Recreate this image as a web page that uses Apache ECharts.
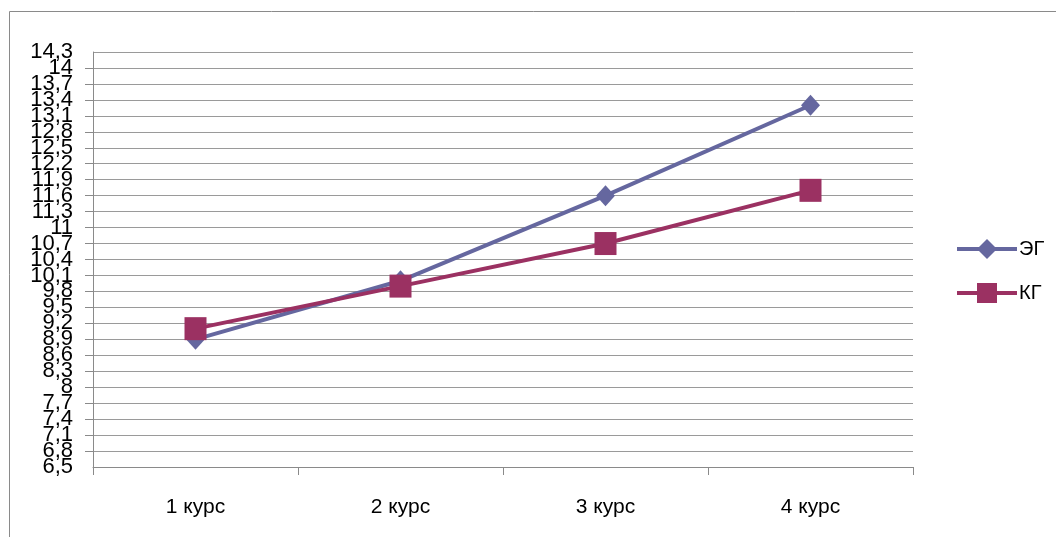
<!DOCTYPE html>
<html>
<head>
<meta charset="utf-8">
<script src="https://cdn.jsdelivr.net/npm/echarts@6/dist/echarts.min.js"></script>
<style>
  html, body { margin: 0; padding: 0; background: #ffffff; }
  #chart { width: 1056px; height: 537px; }
</style>
</head>
<body>
<div id="chart"></div>
<script>
// Course levels on the horizontal axis
const categories = ['1 курс', '2 курс', '3 курс', '4 курс'];
// Group averages per course
const egValues = [8.9, 10.0, 11.6, 13.3];
const kgValues = [9.1, 9.9, 10.7, 11.7];
const seriesNames = ['ЭГ', 'КГ'];
// Vertical scale: ticks every 0.3 from 6,5 to 14,3
const axisBase = 6.5;
const axisTop = 14.3;
const axisStep = 0.3;

// The value axis runs from 0 so that ticks fall on base + k*step;
// labels add the base back.
const shift = v => +(v - axisBase).toFixed(4);
const tickLabel = v => String(Math.round((v + axisBase) * 10) / 10).replace('.', ',');
const span = shift(axisTop);

const chart = echarts.init(document.getElementById('chart'), null, { renderer: 'canvas' });
const gridColor = '#9a9a9a';
const axisColor = '#8a8a8a';
const font = '"Liberation Sans", Arial, sans-serif';
const yLabelStyle = { fontFamily: font, fontSize: 22, color: '#000', margin: 20, hideOverlap: false };

chart.setOption({
  animation: false,
  backgroundColor: '#ffffff',
  textStyle: { fontFamily: font, color: '#000' },
  graphic: [{
    type: 'rect',
    left: 7, top: 9,
    shape: { width: 1100, height: 600 },
    style: { fill: 'none', stroke: axisColor, lineWidth: 1 },
    silent: true
  }],
  grid: { left: 93, right: 143, top: 52, bottom: 70, containLabel: false },
  legend: {
    orient: 'vertical',
    left: 950, top: 234,
    itemWidth: 60, itemHeight: 25, itemGap: 24,
    data: seriesNames,
    lineStyle: { width: 4 },
    textStyle: { fontFamily: font, fontSize: 20, color: '#000', padding: [0, 0, 0, -3] }
  },
  xAxis: {
    type: 'category',
    data: categories,
    boundaryGap: true,
    axisLine: { lineStyle: { color: axisColor, width: 1 } },
    axisTick: { show: true, length: 8, lineStyle: { color: axisColor } },
    axisLabel: { fontFamily: font, fontSize: 21, color: '#000', margin: 30 },
    splitLine: { show: false }
  },
  yAxis: [
    {
      // inner ticks, grid lines and labels
      type: 'value',
      position: 'left',
      min: 0, max: span, interval: axisStep,
      axisLine: { show: true, lineStyle: { color: axisColor, width: 1 } },
      axisTick: { show: true, length: 8, lineStyle: { color: axisColor } },
      axisLabel: Object.assign({}, yLabelStyle, {
        formatter: tickLabel, showMinLabel: false, showMaxLabel: false
      }),
      splitLine: { show: true, lineStyle: { color: gridColor, width: 1 } }
    },
    {
      // end labels 6,5 and 14,3 on the same scale
      type: 'value',
      position: 'left',
      offset: 0,
      min: 0, max: span, interval: axisStep,
      axisLine: { show: false },
      axisTick: { show: false },
      splitLine: { show: false },
      axisLabel: Object.assign({}, yLabelStyle, {
        showMinLabel: true, showMaxLabel: true,
        formatter: v => (Math.abs(v) < 1e-6 || Math.abs(v - span) < 1e-6) ? tickLabel(v) : ''
      })
    }
  ],
  series: [
    {
      name: seriesNames[0],
      type: 'line',
      yAxisIndex: 0,
      data: egValues.map(shift),
      symbol: 'diamond',
      symbolSize: [19, 21],
      lineStyle: { color: '#65679f', width: 4 },
      itemStyle: { color: '#65679f' }
    },
    {
      name: seriesNames[1],
      type: 'line',
      yAxisIndex: 0,
      data: kgValues.map(shift),
      symbol: 'rect',
      symbolSize: [22, 23],
      lineStyle: { color: '#9b3162', width: 4 },
      itemStyle: { color: '#9b3162' }
    }
  ]
});
</script>
</body>
</html>
